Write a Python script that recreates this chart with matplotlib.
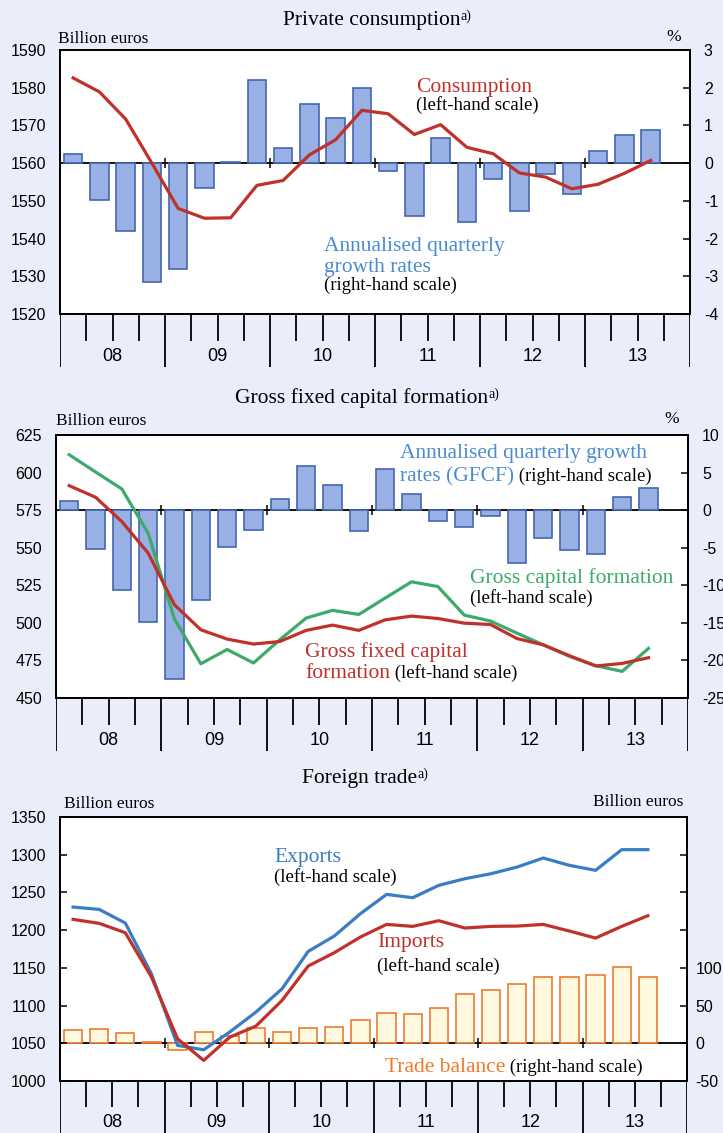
import numpy as np
import matplotlib
matplotlib.use('Agg')
import matplotlib.pyplot as plt

# --- data (quarters 2008Q1 .. 2013Q3) ---
years = ['08', '09', '10', '11', '12', '13']

consumption = [1582.6, 1578.9, 1571.7, 1560.0, 1548.0, 1545.4, 1545.5, 1554.1,
               1555.4, 1562.2, 1566.2, 1574.0, 1573.1, 1567.6, 1570.2, 1564.2,
               1562.5, 1557.4, 1556.3, 1553.2, 1554.4, 1557.3, 1560.7]
consumption_growth = [0.23, -0.98, -1.81, -3.15, -2.80, -0.67, 0.04, 2.20,
                      0.40, 1.58, 1.20, 2.00, -0.21, -1.41, 0.67, -1.55,
                      -0.43, -1.26, -0.29, -0.82, 0.31, 0.75, 0.87]

gfcf = [591.3, 583.6, 567.4, 546.4, 512.0, 495.4, 489.2, 485.9,
        487.6, 495.0, 498.5, 495.0, 502.0, 504.5, 502.9, 499.8,
        498.9, 489.6, 485.4, 478.1, 471.3, 473.0, 476.8]
gross_capital = [611.9, 600.4, 589.1, 559.6, 502.5, 472.8, 482.3, 473.3,
                 488.8, 503.2, 508.3, 505.6, 516.5, 527.3, 524.2, 505.2,
                 501.2, 493.2, 485.4, 477.7, 471.5, 467.7, 483.0]
gfcf_growth = [1.2, -5.2, -10.6, -14.9, -22.5, -12.0, -4.9, -2.7,
               1.5, 5.9, 3.3, -2.8, 5.5, 2.2, -1.4, -2.3,
               -0.75, -7.1, -3.7, -5.3, -5.8, 1.7, 2.9]

exports = [1230.6, 1227.5, 1209.4, 1142.0, 1047.2, 1041.4, 1065.0, 1091.4,
           1122.3, 1171.8, 1192.2, 1221.8, 1247.4, 1243.0, 1259.4, 1268.2,
           1274.8, 1283.7, 1295.6, 1285.9, 1279.3, 1306.7, 1306.7]
imports = [1214.3, 1209.0, 1196.6, 1137.8, 1056.0, 1027.3, 1058.2, 1072.8,
           1106.9, 1152.4, 1170.1, 1190.9, 1207.6, 1205.0, 1212.5, 1202.8,
           1205.0, 1205.4, 1207.6, 1198.8, 1189.5, 1205.0, 1219.1]
trade_balance = [17.2, 19.0, 13.7, 1.8, -8.4, 15.0, 10.2, 20.3,
                 15.0, 19.9, 21.7, 30.5, 40.2, 38.5, 46.9, 65.9,
                 70.7, 78.7, 87.5, 87.5, 90.6, 101.7, 88.4]

W, H = 723, 1133
BG = '#EAEEFB'
SERIF = 'Liberation Serif'
SANS = 'Liberation Sans'
RED = '#C0312B'
GREEN = '#3DAA6B'
BLUE = '#3A7DC4'
BAR_FACE, BAR_EDGE = '#98B0E3', '#4466B0'
TB_FACE, TB_EDGE = '#FFF9E0', '#F07A30'

plt.rcParams['font.family'] = SANS

fig = plt.figure(figsize=(W / 100, H / 100), dpi=100, facecolor=BG)
renderer = fig.canvas.get_renderer()
x = np.arange(len(consumption)) + 0.5


def box(l, t, r, b):
    return [l / W, 1 - b / H, (r - l) / W, (b - t) / H]


def put(px, py, s, color='black', size=13.5, ha='left'):
    return fig.text(px / W, 1 - py / H, s, color=color, fontsize=size,
                    ha=ha, va='baseline', family=SERIF)


def put2(px, py, s1, c1, s2, size1=15.5, size2=13.5):
    t = put(px, py, s1, c1, size1)
    bb = t.get_window_extent(renderer)
    put(bb.x1, py, s2, 'black', size2)


def title(cx, py, s):
    t = put(cx, py, s, size=15.5, ha='center')
    bb = t.get_window_extent(renderer)
    fig.text(bb.x1 / W, (bb.y1 + 1) / H, 'a)', fontsize=10, family=SERIF,
             ha='left', va='top')


def panel(l, t, r, b, strip_b, llim, lstep, rlim, rstep, rlabel_max=None,
          left_ticks=False, rpad=10):
    ax = fig.add_axes(box(l, t, r, b))
    ax2 = ax.twinx()
    ax.set_zorder(3)
    ax2.set_zorder(2)
    ax.patch.set_visible(False)
    ax2.patch.set_visible(True)
    ax2.patch.set_facecolor('white')
    ax.set_xlim(0, 24)
    ax.set_ylim(*llim)
    ax2.set_ylim(*rlim)
    ax.set_yticks(np.arange(llim[0], llim[1] + 0.1, lstep))
    rt = np.arange(rlim[0], rlim[1] + 0.1, rstep)
    ax2.set_yticks(rt)
    ax2.set_yticklabels([('%g' % v) if (rlabel_max is None or v <= rlabel_max) else ''
                         for v in rt])
    ax.set_xticks([])
    ax.tick_params(axis='y', direction='in', length=5 if left_ticks else 0,
                   width=1.1, pad=10, labelsize=11.5)
    ax2.tick_params(axis='y', direction='in', length=5, width=1.1, pad=rpad,
                    labelsize=11.5)
    for a in (ax, ax2):
        for sp in a.spines.values():
            sp.set_linewidth(1.3)
            sp.set_color('black')
    # zero line with year marks
    ax2.axhline(0, color='black', lw=1.3, zorder=1)
    ax2.plot([4, 8, 12, 16, 20], [0] * 5, ls='none', marker='|',
             markersize=7, mew=1.1, color='black', zorder=1)

    st = fig.add_axes(box(l, b, r, strip_b))
    st.set_xlim(0, 24)
    st.set_ylim(0, 1)
    st.axis('off')
    st.vlines(np.arange(0, 25, 4), 0, 1, color='black', lw=1.3)
    qpos = [q for q in range(1, 24) if q % 4]
    st.vlines(qpos, 0.5, 1, color='black', lw=1.3)
    for i, yr in enumerate(years):
        st.text(2 + 4 * i, 0.2, yr, ha='center', va='center', fontsize=13,
                family=SANS)
    return ax, ax2


# ---------------- Panel 1: private consumption ----------------
ax, ax2 = panel(60, 50, 690, 314, 367, (1520, 1590), 10, (-4, 3), 1)
ax2.bar(x, consumption_growth, width=0.7, color=BAR_FACE, edgecolor=BAR_EDGE,
        linewidth=1.2, zorder=2)
ax.plot(x, consumption, color=RED, lw=2.3)
title(372, 25, 'Private consumption')
put(58, 43, 'Billion euros', size=12.5)
put(674, 41, '%', size=12.5, ha='center')
put(416, 92, 'Consumption', RED, 15.5)
put(416, 110, '(left-hand scale)')
put(324, 251, 'Annualised quarterly', '#4A8BD4', 15.5)
put(324, 272, 'growth rates', '#4A8BD4', 15.5)
put(324, 290, '(right-hand scale)')

# ---------------- Panel 2: gross fixed capital formation ----------------
ax, ax2 = panel(56, 435, 688, 698, 751, (450, 625), 25, (-25, 10), 5)
ax2.bar(x, gfcf_growth, width=0.7, color=BAR_FACE, edgecolor=BAR_EDGE,
        linewidth=1.2, zorder=2)
ax.plot(x, gross_capital, color=GREEN, lw=2.3)
ax.plot(x, gfcf, color=RED, lw=2.3)
title(362, 403, 'Gross fixed capital formation')
put(56, 425, 'Billion euros', size=12.5)
put(672, 423, '%', size=12.5, ha='center')
put(400, 458, 'Annualised quarterly growth', '#4A8BD4', 15.5)
put2(400, 481, 'rates (GFCF)', '#4A8BD4', ' (right-hand scale)')
put(470, 583, 'Gross capital formation', GREEN, 15.5)
put(470, 603, '(left-hand scale)')
put(305, 657, 'Gross fixed capital', RED, 15.5)
put2(305, 678, 'formation', RED, ' (left-hand scale)')

# ---------------- Panel 3: foreign trade ----------------
ax, ax2 = panel(60, 817, 687, 1081, 1133, (1000, 1350), 50, (-50, 300), 50,
                rlabel_max=100, left_ticks=True, rpad=6)
ax2.bar(x, trade_balance, width=0.7, color=TB_FACE, edgecolor=TB_EDGE,
        linewidth=1.2, zorder=2)
ax.plot(x, exports, color=BLUE, lw=2.3)
ax.plot(x, imports, color=RED, lw=2.3)
title(360, 783, 'Foreign trade')
put(64, 808, 'Billion euros', size=12.5)
put(683, 806, 'Billion euros', size=12.5, ha='right')
put(274, 862, 'Exports', BLUE, 15.5)
put(274, 882, '(left-hand scale)')
put(377, 947, 'Imports', RED, 15.5)
put(377, 971, '(left-hand scale)')
put2(385, 1072, 'Trade balance', '#F07A2A', ' (right-hand scale)')

fig.savefig('out.png', dpi=100, facecolor=BG)
